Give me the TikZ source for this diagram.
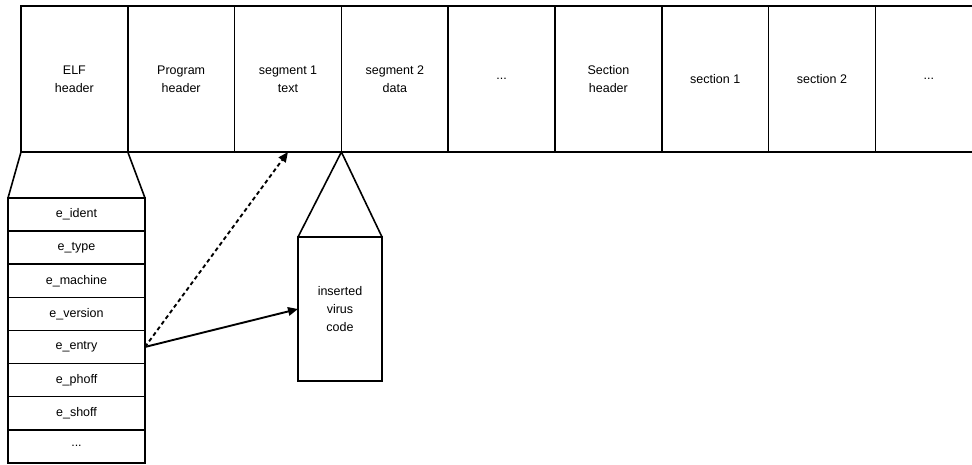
\documentclass[tikz,border=0pt]{standalone}
\usepackage{fontspec}
\setmainfont{Liberation Sans}
\usetikzlibrary{positioning,arrows.meta}

\begin{document}
\begin{tikzpicture}[x=1pt,y=-1pt,
    cell/.style={draw,line width=1.6pt,outer sep=0pt,inner sep=0pt,
        minimum width=106.8pt,minimum height=146pt,align=center,
        font=\fontsize{12.5}{18}\selectfont},
    field/.style={draw,line width=1.6pt,outer sep=0pt,inner sep=0pt,
        minimum width=137pt,minimum height=33.1pt,
        font=\fontsize{12.5}{18}\selectfont},
    link/.style={line width=1.9pt,-{Triangle[length=10pt,width=8.5pt]}}]
    \useasboundingbox (0,0) rectangle (972,464);

    % file layout
    \node[cell,anchor=north west] (c1) at (21,6) {ELF\\header};
    \node[cell,right=0pt of c1] (c2) {Program\\header};
    \node[cell,right=0pt of c2] (c3) {segment 1\\text};
    \node[cell,right=0pt of c3] (c4) {segment 2\\data};
    \node[cell,right=0pt of c4] (c5) {...};
    \node[cell,right=0pt of c5] (c6) {Section\\header};
    \node[cell,right=0pt of c6] (c7) {section 1};
    \node[cell,right=0pt of c7] (c8) {section 2};
    \node[cell,right=0pt of c8] (c9) {...};

    % ELF header fields
    \node[field,anchor=north west] (f1) at (8,198) {e\_ident};
    \node[field,below=0pt of f1] (f2) {e\_type};
    \node[field,below=0pt of f2] (f3) {e\_machine};
    \node[field,below=0pt of f3] (f4) {e\_version};
    \node[field,below=0pt of f4] (f5) {e\_entry};
    \node[field,below=0pt of f5] (f6) {e\_phoff};
    \node[field,below=0pt of f6] (f7) {e\_shoff};
    \node[field,below=0pt of f7] (f8) {...};

    \draw[line width=1.6pt] (c1.south west) -- (f1.north west);
    \draw[line width=1.6pt] (c1.south east) -- (f1.north east);

    % virus body
    \node[cell,minimum width=84pt,minimum height=144pt,anchor=north] (virus) at (340,237) {inserted\\virus\\code};
    \draw[line width=1.6pt,line join=miter] (virus.north west) -- (c3.south east) -- (virus.north east);

    \draw[link,dash pattern=on 4pt off 3pt] (f5.east) -- (c3.south);
    \draw[link] (f5.east) -- (virus.west);
\end{tikzpicture}
\end{document}
